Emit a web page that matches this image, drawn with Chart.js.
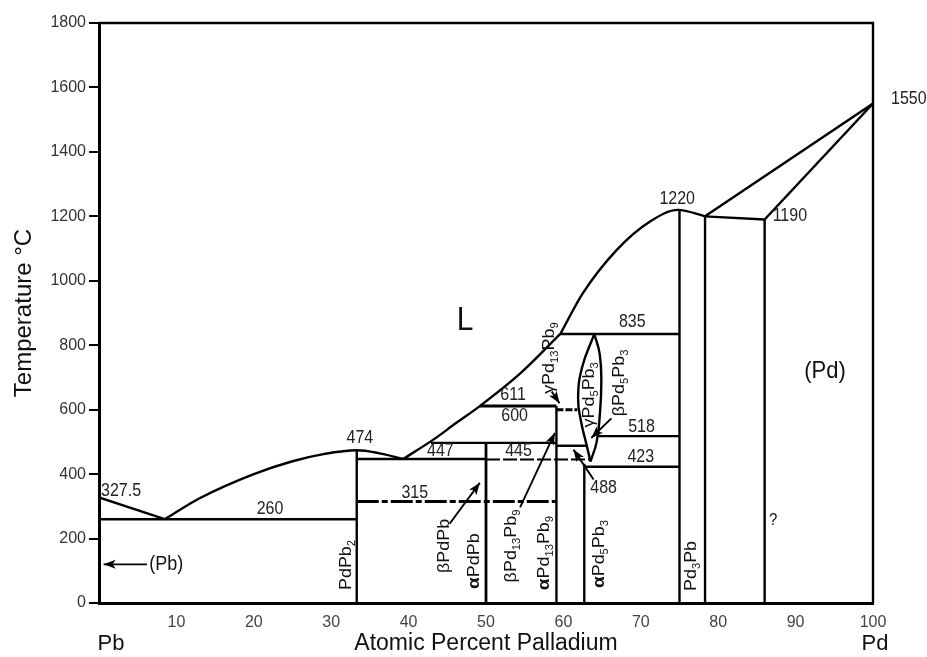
<!DOCTYPE html>
<html>
<head>
<meta charset="utf-8">
<script src="https://cdn.jsdelivr.net/npm/chart.js@4/dist/chart.umd.min.js"></script>
<style>
  html, body { margin: 0; padding: 0; background: #fff; }
  #wrap { width: 927px; height: 657px; }
</style>
</head>
<body>
<div id="wrap"><canvas id="c" width="927" height="657"></canvas></div>
<script>
// Pb–Pd equilibrium phase diagram: temperature (°C) against atomic percent Pd.

const FONT = '"Liberation Sans", Arial, Helvetica, sans-serif';

// Axis ticks
const xTickValues = [10, 20, 30, 40, 50, 60, 70, 80, 90, 100];
const yTickValues = [0, 200, 400, 600, 800, 1000, 1200, 1400, 1600, 1800];

// Liquidus branches, [at.% Pd, °C]
const liquidusPbSide = [[0, 327.5], [8.5, 260]];
const liquidusPdPb2 = [[8.5, 260], [13, 325], [20, 400], [25, 440], [29, 462], [33.3, 474], [36, 466], [39.3, 447]];
const liquidusMid = [[39.3, 447], [43.2, 507], [46, 556], [49.2, 611], [54.5, 714], [59.6, 835]];
const liquidusHigh = [[59.6, 835], [62.5, 961], [66.9, 1096], [71.2, 1184], [74.8, 1220], [78.3, 1200]];
const liquidusPd = [[78.3, 1200], [100, 1550]];
const solidusPd = [[86, 1190], [100, 1550]];
const peritecticPd = [[78.3, 1200], [86, 1190]];

// γPd5Pb3 lens, [at.% Pd, °C]
const lensLeft = [[64.0, 835], [62.4, 730], [61.9, 634], [62.3, 561], [63.0, 490], [63.5, 439]];
const lensRight = [[64.0, 835], [64.7, 771], [64.9, 685], [64.7, 583], [64.3, 500], [63.5, 439]];

// Invariant reactions, [°C, from at.% Pd, to at.% Pd]
const isotherms = [
  [260, 0, 33.3], [447, 33.3, 50], [445, 50, 63.4], [315, 33.3, 59.1],
  [497, 42.9, 59.1], [488, 59.1, 63.1], [611, 49.2, 59.1], [600, 59.1, 61.8],
  [835, 59.6, 75], [518, 64.5, 75], [423, 62.7, 75]
];

// Compound / phase limits, [at.% Pd, from °C, to °C]
const phaseLimits = [
  [33.3, 0, 474], [50, 0, 497], [59.1, 0, 611], [62.7, 0, 432],
  [75, 0, 1220], [78.3, 0, 1200], [86, 0, 1190]
];

// Pointer arrows, [from at.%, from °C, to at.%, to °C]
const arrows = [
  [6.2, 120, 0.6, 120], [45.3, 246, 49.2, 373], [54.4, 297, 58.9, 528],
  [63.9, 383, 61.3, 476], [58.5, 656, 59.5, 620], [66.2, 573, 63.6, 512]
];

// Temperature callouts: [°C, at.% Pd, vertical offset px, align, horizontal offset px]
const valueNotes = [
  [327.5, 2.85, -6], [260, 22.1, -10], [474, 33.7, -12], [447, 44.1, -8],
  [445, 54.2, -9], [315, 40.8, -8], [611, 53.5, -11], [600, 53.7, 6],
  [835, 68.9, -12], [518, 70.1, -9], [423, 70.0, -10], [1220, 74.7, -11],
  [1190, 86, -3, 'left', 8], [1550, 100, -4, 'left', 18], [488, 65.2, 42]
];

// Phase field names: [text, at.% Pd, °C, font size]
const fieldNames = [['L', 47.3, 875, 30], ['(Pd)', 93.8, 720, 22], ['(Pb)', 8.7, 120, 18], ['?', 87.1, 258, 15]];

// Vertical compound labels: [formula, at.% Pd, °C]
const compoundNames = [
  ['PdPb2', 31.8, 118], ['βPdPb', 44.5, 177], ['αPdPb', 48.4, 130],
  ['βPd13Pb9', 53.1, 177], ['αPd13Pb9', 57.4, 155], ['αPd5Pb3', 64.5, 152],
  ['Pd3Pb', 76.4, 115], ['γPd13Pb9', 58.1, 760], ['γPd5Pb3', 63.2, 646],
  ['βPd5Pb3', 67.1, 683]
];

function line(points, extra) {
  return Object.assign({
    data: points.map(([x, y]) => ({ x, y })),
    showLine: true, fill: false, pointRadius: 0, pointHoverRadius: 0,
    borderColor: '#000', borderWidth: 2.4, tension: 0
  }, extra || {});
}

const datasets = [
  line(liquidusPbSide),
  line(liquidusPdPb2, { cubicInterpolationMode: 'monotone' }),
  line(liquidusMid, { cubicInterpolationMode: 'monotone' }),
  line(liquidusHigh, { cubicInterpolationMode: 'monotone' }),
  line(liquidusPd),
  line(solidusPd),
  line(peritecticPd),
  line(lensLeft, { tension: 0.45 }),
  line(lensRight, { tension: 0.45 })
];

isotherms.forEach(([t, a, b]) => {
  const extra = {};
  if (t === 315) { extra.borderDash = [22, 3, 6, 3]; extra.borderWidth = 2.8; }
  if (t === 445) { extra.borderDash = [14, 3]; extra.borderWidth = 2; }
  if (t === 611) { extra.borderWidth = 3; }
  if (t === 600) { extra.borderWidth = 3; extra.borderDash = [7, 2]; }
  if (t === 260) { extra.borderWidth = 2.6; }
  datasets.push(line([[a, t], [b, t]], extra));
});
phaseLimits.forEach(([x, a, b]) => {
  datasets.push(line([[x, a], [x, b]], x === 50 ? { borderWidth: 2.8 } : {}));
});
arrows.forEach(([x0, t0, x1, t1]) => {
  datasets.push(line([[x0, t0], [x1, t1]], { borderWidth: 1.9 }));
});

// Formula text: digits become subscripts, a leading α is set bold.
function formulaRuns(str) {
  const runs = [];
  (str.match(/\d+|\D+/g) || []).forEach(tok => {
    if (/^\d/.test(tok)) runs.push({ t: tok, sub: true });
    else if (tok[0] === 'α') {
      runs.push({ t: 'α', bold: true });
      if (tok.length > 1) runs.push({ t: tok.slice(1) });
    } else runs.push({ t: tok });
  });
  return runs;
}
function runFont(r, size) {
  if (r.sub) return Math.round(size * 0.62) + 'px ' + FONT;
  if (r.bold) return 'bold ' + (size + 1) + 'px ' + FONT;
  return size + 'px ' + FONT;
}
function drawRuns(ctx, runs, size) {
  let w = 0;
  runs.forEach(r => { ctx.font = runFont(r, size); r.w = ctx.measureText(r.t).width; w += r.w; });
  let cx = -w / 2;
  ctx.textAlign = 'left';
  ctx.textBaseline = 'alphabetic';
  const base = size * 0.36;
  runs.forEach(r => {
    ctx.font = runFont(r, size);
    ctx.fillText(r.t, cx, base + (r.sub ? size * 0.24 : 0));
    cx += r.w;
  });
}

const annotate = {
  id: 'annotate',
  afterDatasetsDraw(chart) {
    const { ctx, chartArea: a } = chart;
    const sx = chart.scales.x, sy = chart.scales.y;
    ctx.save();

    // top and right frame
    ctx.strokeStyle = '#000';
    ctx.lineWidth = 2.4;
    ctx.beginPath();
    ctx.moveTo(a.left, a.top); ctx.lineTo(a.right, a.top); ctx.lineTo(a.right, a.bottom);
    ctx.stroke();

    // arrowheads
    ctx.fillStyle = '#000';
    arrows.forEach(([x0, t0, x1, t1]) => {
      const px0 = sx.getPixelForValue(x0), py0 = sy.getPixelForValue(t0);
      const px1 = sx.getPixelForValue(x1), py1 = sy.getPixelForValue(t1);
      const ang = Math.atan2(py1 - py0, px1 - px0);
      ctx.save();
      ctx.translate(px1, py1);
      ctx.rotate(ang);
      ctx.beginPath();
      ctx.moveTo(0, 0); ctx.lineTo(-12, -4.5); ctx.lineTo(-9, 0); ctx.lineTo(-12, 4.5);
      ctx.closePath();
      ctx.fill();
      ctx.restore();
    });

    // temperature callouts
    ctx.fillStyle = '#222';
    valueNotes.forEach(([t, x, dy, align, dx]) => {
      const px = sx.getPixelForValue(x) + (dx || 0);
      const py = sy.getPixelForValue(t) + dy;
      ctx.save();
      ctx.translate(px, py);
      ctx.scale(1, 1.12);
      ctx.font = '16px ' + FONT;
      ctx.textAlign = align || 'center';
      ctx.textBaseline = 'middle';
      ctx.fillText(String(t), 0, 0);
      ctx.restore();
    });

    // phase field names
    ctx.fillStyle = '#111';
    fieldNames.forEach(([txt, x, t, size]) => {
      ctx.save();
      ctx.translate(sx.getPixelForValue(x), sy.getPixelForValue(t));
      ctx.scale(1, 1.12);
      ctx.font = size + 'px ' + FONT;
      ctx.textAlign = 'center';
      ctx.textBaseline = 'middle';
      ctx.fillText(txt, 0, 0);
      ctx.restore();
    });

    // compound names, written upward
    compoundNames.forEach(([name, x, t]) => {
      ctx.save();
      ctx.translate(sx.getPixelForValue(x), sy.getPixelForValue(t));
      ctx.rotate(-Math.PI / 2);
      ctx.scale(1.12, 1);
      drawRuns(ctx, formulaRuns(name), 16);
      ctx.restore();
    });

    // element names at the axis ends
    ctx.font = '22px ' + FONT;
    ctx.textAlign = 'center';
    ctx.textBaseline = 'middle';
    ctx.fillText('Pb', sx.getPixelForValue(0) + 12, 644);
    ctx.fillText('Pd', sx.getPixelForValue(100) + 2, 644);

    ctx.restore();
  }
};

new Chart(document.getElementById('c'), {
  type: 'scatter',
  data: { datasets },
  options: {
    responsive: false,
    animation: false,
    events: [],
    layout: { padding: { top: 23, right: 54, left: 0, bottom: 0 } },
    plugins: { legend: { display: false }, tooltip: { enabled: false } },
    scales: {
      x: {
        type: 'linear', min: 0, max: 100,
        afterFit(s) { s.height = 54; },
        afterBuildTicks(s) { s.ticks = xTickValues.map(v => ({ value: v })); },
        ticks: {
          autoSkip: false, maxRotation: 0, padding: 10, color: '#444',
          font: { family: FONT, size: 16 },
          callback: v => String(v)
        },
        grid: { display: false, drawTicks: false },
        border: { display: true, color: '#000', width: 3 },
        title: {
          display: true, text: 'Atomic Percent Palladium', color: '#111',
          font: { family: FONT, size: 23, lineHeight: 1 }, padding: { top: 0, bottom: 2 }
        }
      },
      y: {
        type: 'linear', min: 0, max: 1800,
        afterFit(s) { s.width = 99; },
        afterBuildTicks(s) { s.ticks = yTickValues.map(v => ({ value: v })); },
        ticks: {
          padding: 3, color: '#333', font: { family: FONT, size: 16 },
          callback: v => String(v)
        },
        grid: { drawOnChartArea: false, drawTicks: true, tickLength: 10, color: '#000', lineWidth: 2 },
        border: { display: true, color: '#000', width: 3 },
        title: {
          display: true, text: 'Temperature °C', color: '#111',
          font: { family: FONT, size: 24, lineHeight: 1.2 }, padding: { top: 10, bottom: 0 }
        }
      }
    }
  },
  plugins: [annotate]
});
</script>
</body>
</html>
